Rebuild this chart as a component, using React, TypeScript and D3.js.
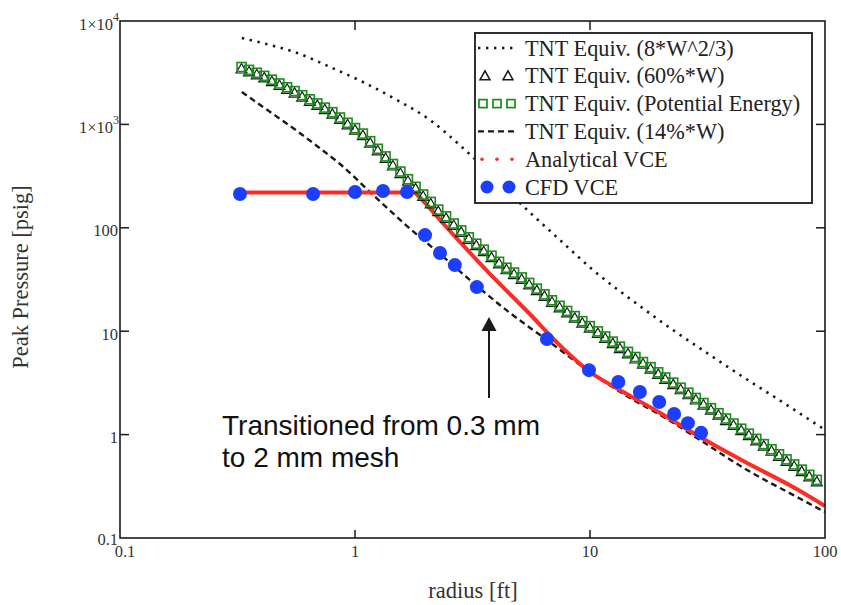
import React from "react";
import * as d3 from "d3";

const xTicks = [0.1, 1, 10, 100];
const xTickLabels = ["0.1", "1", "10", "100"];
const yTicks = [1e4, 1e3, 100, 10, 1, 0.1];
const yTickBase = ["1×10", "1×10", "100", "10", "1", "0.1"];
const yTickSup = ["4", "3", "", "", "", ""];

// TNT Equiv. (8*W^2/3) – dotted
const tnt8X = [0.33, 0.435, 0.567, 0.783, 1.081, 1.509, 2.085, 2.88, 5.4, 7.45, 10.3, 16.3, 22.5, 31.5, 43.5, 60.1, 100];
const tnt8Y = [6850, 5860, 4910, 3590, 2570, 1722, 1103, 591, 149, 76.2, 39.1, 17.5, 10.3, 6.15, 3.77, 2.36, 1.11];

// TNT Equiv. (14%*W) – dashed
const tnt14X = [0.33, 0.406, 0.567, 0.689, 0.863, 1.193, 1.665, 2.3, 3.3, 4.57, 6.56, 10.0, 14.8, 19.9, 29.4, 46.6, 73.1, 100];
const tnt14Y = [2056, 1473, 863, 618, 414, 208, 104, 55.8, 27.4, 15.0, 8.22, 4.03, 2.26, 1.55, 0.887, 0.455, 0.261, 0.178];

// TNT Equiv. (Potential Energy) – green squares
const potX = [0.329, 0.354, 0.382, 0.411, 0.443, 0.477, 0.514, 0.553, 0.596, 0.642, 0.691, 0.744, 0.801, 0.863, 0.93, 1.0, 1.08, 1.16, 1.25, 1.35, 1.45, 1.56, 1.68, 1.81, 1.95, 2.1, 2.26, 2.44, 2.63, 2.83, 3.05, 3.28, 3.53, 3.81, 4.1, 4.41, 4.75, 5.12, 5.51, 5.94, 6.4, 6.89, 7.42, 7.99, 8.61, 9.27, 9.98, 10.8, 11.6, 12.5, 13.4, 14.5, 15.6, 16.8, 18.1, 19.5, 20.9, 22.6, 24.3, 26.2, 28.2, 30.4, 32.7, 35.2, 37.9, 40.8, 44.0, 47.4, 51.0, 54.9, 59.2, 63.7, 68.6, 73.9, 79.6, 85.7, 92.3];
const potY = [3590, 3367, 3155, 2945, 2706, 2487, 2285, 2100, 1916, 1748, 1596, 1454, 1312, 1166, 1036, 921, 815, 688, 581, 490, 414, 350, 295, 249, 210, 178, 150, 129, 110, 94.4, 80.9, 70.2, 61.4, 53.7, 46.9, 41.1, 36.9, 33.1, 29.3, 25.8, 22.7, 19.9, 17.6, 15.7, 14.0, 12.5, 11.2, 9.96, 8.89, 7.93, 7.08, 6.31, 5.63, 5.03, 4.49, 4.0, 3.57, 3.18, 2.84, 2.54, 2.26, 2.02, 1.8, 1.61, 1.43, 1.28, 1.14, 1.02, 0.909, 0.809, 0.722, 0.645, 0.576, 0.514, 0.458, 0.408, 0.365];

// TNT Equiv. (60%*W) – triangles (coincides with potential energy)
const tnt60X = potX;
const tnt60Y = potY;

// Analytical VCE – red (plateau, then decay)
const vcePlateauX = [0.324, 1.8];
const vcePlateauY = [220, 220];
const vceDecayX = [1.8, 1.986, 2.3, 2.8, 3.75, 5.4, 7.45, 10.0, 13.4, 19.9, 29.4, 46.6, 73.1, 100];
const vceDecayY = [220, 174, 119, 72.9, 35.8, 15.6, 7.3, 4.03, 2.7, 1.62, 0.948, 0.531, 0.311, 0.204];

// CFD VCE – blue dots
const cfdX = [0.324, 0.663, 1.0, 1.316, 1.665, 1.986, 2.3, 2.66, 3.3, 6.56, 9.9, 13.2, 16.3, 19.7, 22.8, 26.1, 29.7];
const cfdY = [212, 212, 222, 227, 222, 85, 57, 43.6, 26.7, 8.4, 4.2, 3.23, 2.58, 2.07, 1.58, 1.29, 1.04];

const legendLabels = [
  "TNT Equiv. (8*W^2/3)",
  "TNT Equiv. (60%*W)",
  "TNT Equiv. (Potential Energy)",
  "TNT Equiv. (14%*W)",
  "Analytical VCE",
  "CFD VCE",
];

const annotationLines = ["Transitioned from 0.3 mm", "to 2 mm mesh"];

const GREEN = "#1d8c1d";
const BLUE = "#1c3fff";
const RED = "#fb2d24";
const INK = "#1a1a1a";
const SERIF = "'Liberation Serif', 'Times New Roman', serif";
const SANS = "'Liberation Sans', Arial, sans-serif";

export default function App() {
  const L = 120, R = 825, T = 21, B = 538;
  const x = d3.scaleLog().domain([0.1, 100]).range([L, R]);
  const y = d3.scaleLog().domain([0.1, 1e4]).range([B, T]);
  const line = (xs: number[], ys: number[], curve: any = d3.curveMonotoneX) =>
    d3.line<number>().x((_, i) => x(xs[i])).y((_, i) => y(ys[i])).curve(curve)(xs.map((_, i) => i)) || "";

  const tri = (cx: number, cy: number, w: number, top: number, bot: number) =>
    `M${cx},${cy - top} L${cx + w / 2},${cy + bot} L${cx - w / 2},${cy + bot} Z`;

  const legX = 475, legY = 33, legW = 337, legH = 170;
  const rowY = (i: number) => 48 + 27.8 * i;

  return (
    <svg width={841} height={605} style={{ position: "absolute", left: 0, top: 0, background: "#fff" }}>
      <rect x={0} y={0} width={841} height={605} fill="#fff" />
      {/* series */}
      <path d={line(tnt8X, tnt8Y)} fill="none" stroke={INK} strokeWidth={2.6} strokeDasharray="2.4,5.6" />
      <path d={line(tnt14X, tnt14Y)} fill="none" stroke={INK} strokeWidth={2.4} strokeDasharray="6,4" />
      <path d={line(vcePlateauX, vcePlateauY, d3.curveLinear)} fill="none" stroke={RED} strokeWidth={4} />
      <path d={line(vceDecayX, vceDecayY)} fill="none" stroke={RED} strokeWidth={4} strokeLinejoin="round" />
      {tnt60X.map((v, i) => (
        <path key={"t" + i} d={tri(x(v), y(tnt60Y[i]), 11, 3.5, 6)} fill="none" stroke={INK} strokeWidth={1.2} />
      ))}
      {potX.map((v, i) => (
        <rect key={"s" + i} x={x(v) - 4.5} y={y(potY[i]) - 4.5} width={9} height={9} fill="none" stroke={GREEN} strokeWidth={1.6} />
      ))}
      {cfdX.map((v, i) => (
        <circle key={"c" + i} cx={x(v)} cy={y(cfdY[i])} r={7} fill={BLUE} />
      ))}

      {/* frame */}
      <rect x={L} y={T} width={R - L} height={B - T} fill="none" stroke={INK} strokeWidth={1.6} />
      {xTicks.slice(1, -1).map((t) => (
        <g key={"xt" + t}>
          <line x1={x(t)} x2={x(t)} y1={B} y2={B - 8} stroke={INK} strokeWidth={1.5} />
          <line x1={x(t)} x2={x(t)} y1={T} y2={T + 9} stroke={INK} strokeWidth={1.5} />
        </g>
      ))}
      {yTicks.slice(1, -1).map((t) => (
        <g key={"yt" + t}>
          <line x1={L} x2={L + 9} y1={y(t)} y2={y(t)} stroke={INK} strokeWidth={1.5} />
          <line x1={R} x2={R - 9} y1={y(t)} y2={y(t)} stroke={INK} strokeWidth={1.5} />
        </g>
      ))}

      {/* tick labels */}
      {xTicks.map((t, i) => (
        <text key={"xl" + t} x={x(t) + (i === 0 ? 5 : 0)} y={557} textAnchor="middle" fontFamily={SERIF} fontSize={16.5} fill="#333">
          {xTickLabels[i]}
        </text>
      ))}
      {yTicks.map((t, i) => (
        <text key={"yl" + t} x={yTickSup[i] ? 119 : 118} y={y(t) + (i === yTicks.length - 1 ? 7 : 8.5)} textAnchor="end" fontFamily={SERIF} fontSize={16.5} fill="#333">
          {yTickBase[i]}
          {yTickSup[i] ? (
            <tspan dy={-9} fontSize={12}>{yTickSup[i]}</tspan>
          ) : null}
        </text>
      ))}

      {/* axis titles */}
      <text x={473} y={598} textAnchor="middle" fontFamily={SERIF} fontSize={22.5} fill="#333">radius [ft]</text>
      <text transform="translate(28,277) rotate(-90)" textAnchor="middle" fontFamily={SERIF} fontSize={22.5} fill="#333">
        Peak Pressure [psig]
      </text>

      {/* legend */}
      <rect x={legX} y={legY} width={legW} height={legH} fill="#fff" stroke={INK} strokeWidth={1.8} />
      <line x1={478} x2={518} y1={rowY(0)} y2={rowY(0)} stroke={INK} strokeWidth={2.4} strokeDasharray="2.4,5.6" />
      {[485, 508].map((cx) => (
        <path key={"lt" + cx} d={tri(cx, rowY(1), 10, 5, 4)} fill="none" stroke={INK} strokeWidth={1.5} />
      ))}
      {[483, 497, 511].map((cx) => (
        <rect key={"ls" + cx} x={cx - 4} y={rowY(2) - 4} width={8} height={8} fill="none" stroke={GREEN} strokeWidth={1.7} />
      ))}
      <line x1={478} x2={518} y1={rowY(3)} y2={rowY(3)} stroke={INK} strokeWidth={2.4} strokeDasharray="6,4" />
      {[482, 497, 512].map((cx) => (
        <circle key={"lr" + cx} cx={cx} cy={rowY(4)} r={1.8} fill={RED} />
      ))}
      {[487, 509].map((cx) => (
        <circle key={"lb" + cx} cx={cx} cy={rowY(5)} r={6.5} fill={BLUE} />
      ))}
      {legendLabels.map((s, i) => (
        <text key={"lg" + i} x={525} y={rowY(i) + 7.5} fontFamily={SERIF} fontSize={22.3} fill="#222">{s}</text>
      ))}

      {/* annotation */}
      <line x1={489} x2={489} y1={398} y2={330} stroke={INK} strokeWidth={2} />
      <path d="M481.5,331 L496.5,331 L489,317 Z" fill={INK} />
      {annotationLines.map((s, i) => (
        <text key={"an" + i} x={222} y={435 + 32 * i} fontFamily={SANS} fontSize={28} fill="#111">{s}</text>
      ))}
    </svg>
  );
}
